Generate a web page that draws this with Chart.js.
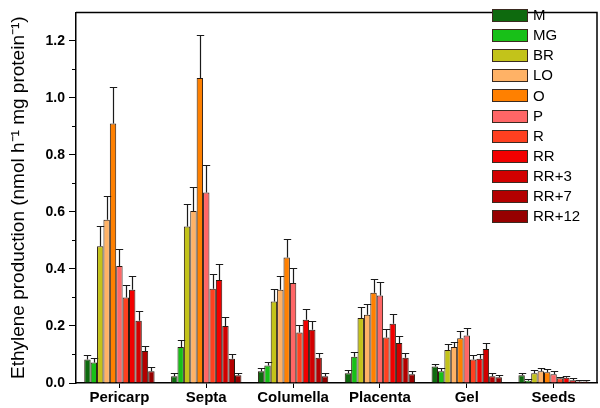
<!DOCTYPE html>
<html>
<head>
<meta charset="utf-8">
<script src="https://cdn.jsdelivr.net/npm/chart.js@4.4.1/dist/chart.umd.min.js"></script>
<style>
  html, body { margin: 0; padding: 0; background: #fff; }
  #wrap { width: 600px; height: 408px; }
</style>
</head>
<body>
<div id="wrap"><canvas id="c" width="600" height="408"></canvas></div>
<script>
// ---- data ----
const categories = ['Pericarp', 'Septa', 'Columella', 'Placenta', 'Gel', 'Seeds'];
const stages = ['M', 'MG', 'BR', 'LO', 'O', 'P', 'R', 'RR', 'RR+3', 'RR+7', 'RR+12'];
const stageColors = ['#0e6a0e', '#18c018', '#c3c31a', '#ffb266', '#ff8000', '#ff6666',
                     '#ff4020', '#f20000', '#d20000', '#b40000', '#960000'];

// values per tissue, in stage order M ... RR+12
const pericarp  = [0.082, 0.072, 0.480, 0.573, 0.910, 0.410, 0.300, 0.327, 0.218, 0.112, 0.041];
const septa     = [0.024, 0.126, 0.549, 0.603, 1.070, 0.668, 0.331, 0.361, 0.200, 0.085, 0.027];
const columella = [0.041, 0.061, 0.286, 0.327, 0.440, 0.351, 0.177, 0.222, 0.187, 0.089, 0.024];
const placenta  = [0.034, 0.092, 0.228, 0.239, 0.317, 0.307, 0.160, 0.208, 0.140, 0.089, 0.031];
const gel       = [0.058, 0.041, 0.116, 0.126, 0.157, 0.167, 0.082, 0.085, 0.119, 0.024, 0.020];
const seeds     = [0.027, 0.008, 0.034, 0.041, 0.038, 0.031, 0.017, 0.018, 0.010, 0.005, 0.005];

// standard errors (upper bars)
const pericarpErr  = [0.017, 0.015, 0.072, 0.082, 0.130, 0.060, 0.044, 0.048, 0.034, 0.018, 0.014];
const septaErr     = [0.010, 0.024, 0.078, 0.086, 0.150, 0.096, 0.051, 0.055, 0.032, 0.017, 0.007];
const columellaErr = [0.010, 0.014, 0.044, 0.048, 0.065, 0.051, 0.028, 0.037, 0.031, 0.016, 0.010];
const placentaErr  = [0.010, 0.017, 0.038, 0.037, 0.048, 0.048, 0.028, 0.034, 0.024, 0.017, 0.010];
const gelErr       = [0.010, 0.010, 0.020, 0.017, 0.025, 0.025, 0.017, 0.017, 0.021, 0.010, 0.007];
const seedsErr     = [0.007, 0.005, 0.010, 0.010, 0.010, 0.010, 0.005, 0.007, 0.007, 0.004, 0.004];

const yTicks = [0.0, 0.2, 0.4, 0.6, 0.8, 1.0, 1.2];
const yMinorTicks = [0.1, 0.3, 0.5, 0.7, 0.9, 1.1];
const yTitle = 'Ethylene production (nmol h\u207B\u00B9 mg protein\u207B\u00B9)';

// ---- build datasets ----
const tissues = [pericarp, septa, columella, placenta, gel, seeds];
const tissueErrs = [pericarpErr, septaErr, columellaErr, placentaErr, gelErr, seedsErr];
const datasets = stages.map((s, si) => ({
  label: s,
  data: tissues.map(t => t[si]),
  errors: tissueErrs.map(t => t[si]),
  backgroundColor: stageColors[si],
  borderColor: '#2a1a10',
  borderWidth: 1,
  categoryPercentage: 0.81,
  barPercentage: 1.0
}));

const FONT = '"Liberation Sans", Arial, Helvetica, sans-serif';

const errorBars = {
  id: 'errorBars',
  afterDatasetsDraw(chart) {
    const ctx = chart.ctx, y = chart.scales.y;
    ctx.save();
    ctx.strokeStyle = '#1a1a1a';
    ctx.lineWidth = 1.2;
    chart.data.datasets.forEach((ds, di) => {
      const meta = chart.getDatasetMeta(di);
      meta.data.forEach((bar, i) => {
        const top = Math.round(y.getPixelForValue(ds.data[i] + ds.errors[i])) + 0.5;
        const x = Math.round(bar.x) + 0.5;
        const hw = bar.width / 2 + 0.5;
        ctx.beginPath();
        ctx.moveTo(x, bar.y);
        ctx.lineTo(x, top);
        ctx.moveTo(x - hw, top);
        ctx.lineTo(x + hw, top);
        ctx.stroke();
      });
    });
    ctx.restore();
  }
};

const frameAndMinor = {
  id: 'frameAndMinor',
  afterDraw(chart) {
    const ctx = chart.ctx, a = chart.chartArea, y = chart.scales.y;
    ctx.save();
    ctx.strokeStyle = '#000';
    ctx.lineWidth = 1.5;
    ctx.beginPath();
    ctx.moveTo(a.left, a.top);
    ctx.lineTo(a.right, a.top);
    ctx.lineTo(a.right, a.bottom);
    ctx.stroke();
    ctx.lineWidth = 1;
    yMinorTicks.forEach(v => {
      const py = Math.round(y.getPixelForValue(v)) + 0.5;
      ctx.beginPath();
      ctx.moveTo(a.left - 4, py);
      ctx.lineTo(a.left, py);
      ctx.stroke();
    });
    // legend
    ctx.font = '15px ' + FONT;
    ctx.textBaseline = 'middle';
    ctx.textAlign = 'left';
    chart.data.datasets.forEach((ds, i) => {
      const cy = 15 + i * 20.1;
      ctx.fillStyle = ds.backgroundColor;
      ctx.fillRect(492, Math.round(cy - 6), 35, 12);
      ctx.strokeStyle = '#3a2a20';
      ctx.lineWidth = 1;
      ctx.strokeRect(492.5, Math.round(cy - 6) + 0.5, 35, 12);
      ctx.fillStyle = '#000';
      ctx.fillText(ds.label, 533, cy + 1);
    });
    ctx.restore();
  }
};

new Chart(document.getElementById('c'), {
  type: 'bar',
  data: { labels: categories, datasets: datasets },
  options: {
    responsive: false,
    animation: false,
    layout: { padding: { top: 2, right: 3, left: 0, bottom: 0 } },
    plugins: { legend: { display: false }, tooltip: { enabled: false } },
    scales: {
      x: {
        grid: { drawOnChartArea: false, offset: false, tickLength: 5, color: '#000' },
        border: { color: '#000', width: 1.5 },
        ticks: { font: { family: FONT, size: 15, weight: 'bold' }, color: '#000', padding: 1 },
        afterFit(s) { s.height = 25; }
      },
      y: {
        min: 0, max: 1.3,
        afterBuildTicks(s) { s.ticks = yTicks.map(v => ({ value: v })); },
        ticks: {
          callback: v => Number(v).toFixed(1),
          font: { family: FONT, size: 14, weight: 'bold' }, color: '#000', padding: 4
        },
        grid: { drawOnChartArea: false, tickLength: 7, color: '#000' },
        border: { color: '#000', width: 1.5 },
        title: {
          display: true, text: yTitle, color: '#000',
          font: { family: FONT, size: 19 }, padding: { top: 7, bottom: 0 }
        },
        afterFit(s) { s.width = 76; }
      }
    }
  },
  plugins: [errorBars, frameAndMinor]
});
</script>
</body>
</html>
